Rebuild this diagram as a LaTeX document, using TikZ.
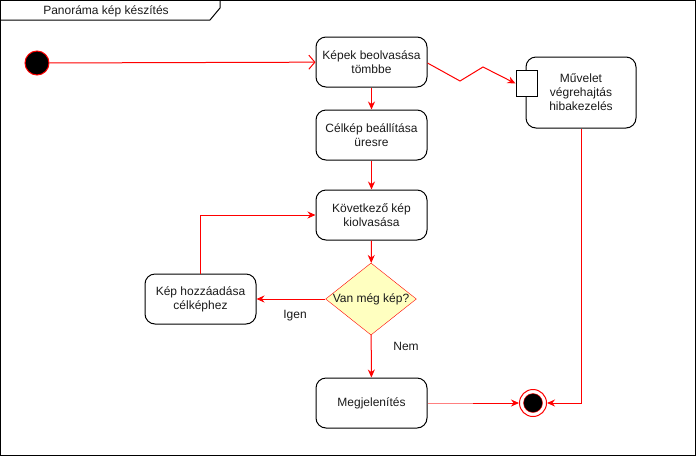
\documentclass[tikz,border=0pt]{standalone}
\usepackage{fontspec}
\setmainfont{Liberation Sans}
\usetikzlibrary{
  arrows.meta,
  shapes.geometric,
  positioning,
  calc
}
\definecolor{paRed}{HTML}{FF0000}
\definecolor{paFaint}{HTML}{FF8080}
\definecolor{paDec}{HTML}{FFFFC0}
\definecolor{paText}{HTML}{1A1A1A}
\tikzset{
  panode/.style={
    draw, rounded corners=10pt, minimum height=50pt, minimum width=111pt,
    font=\fontsize{12}{14}\selectfont, align=center, line width=1pt, text=paText
  },
  action/.style={panode},
  errbox/.style={panode, minimum height=71pt, minimum width=110pt},
  port/.style={draw, fill=white, line width=1pt, minimum width=21pt, minimum height=26pt, inner sep=0pt},
  decision/.style={
    draw=paRed, fill=paDec, diamond, aspect=1.26, minimum width=88pt, minimum height=70pt,
    inner sep=0pt, font=\fontsize{12}{14}\selectfont, text=paText
  },
  startpt/.style={circle, draw=paRed, fill=black, minimum size=24pt, inner sep=0pt, line width=1pt},
  endpt/.style={circle, draw=paRed, fill=white, minimum size=27pt, inner sep=0pt, line width=1pt},
  flow/.style={-{Stealth[length=8pt, width=7pt]}, paRed, line width=1pt},
  openflow/.style={-{Straight Barb[length=6pt, width=14pt]}, paRed, line width=1pt},
  tag/.style={font=\fontsize{12}{14}\selectfont, text=paText},
  frame/.style={draw, line width=1pt}
}

\begin{document}
\begin{tikzpicture}[x=1pt, y=-1pt]
  \useasboundingbox (0,0) rectangle (696,456);
  % frame and title tab
  \draw[frame] (0.5,0.5) rectangle (695.5,455.5);
  \draw[frame] (0.5,20) -- (210,20) -- (220,8) -- (220,0.5);
  \node[tag] (title) at (106,11) {Panoráma kép készítés};

  % nodes
  \node[startpt] (start) at (37,63) {};
  \node[action] (read) at (371.5,62) {Képek beolvasása\\tömbbe};
  \node[action] (init) at (371.5,135) {Célkép beállítása\\üresre};
  \node[action] (next) at (371.5,215) {Következő kép\\kiolvasása};
  \node[decision] (more) at (371,299) {Van még kép?};
  \node[action] (add) at (200.5,299) {Kép hozzáadása\\célképhez};
  \node[action] (show) at (371.5,403) {Megjelenítés};
  \node[errbox] (err) at (581,92.5) {Művelet\\végrehajtás\\hibakezelés};
  \node[port] (errport) at (526.5,83.5) {};
  \node[endpt] (stop) at (533,403) {};
  \node[circle, fill=black, draw=paRed, minimum size=19pt, inner sep=0pt] (stopin) at (stop) {};

  % connectors
  \draw[openflow] (start) -- (read);
  \draw[flow] (read) -- (init);
  \draw[flow] (init) -- (next);
  \draw[flow] (next) -- (more);
  \draw[flow] (more) -- (add);
  \draw[flow] (more) -- (show);
  \draw[flow] (add.north) |- (next.west);
  \coordinate (z1) at (460,81);
  \coordinate (z2) at (483,67);
  \draw[flow] (read.east |- 0,63) -- (z1) -- (z2) -- (errport.west);
  \coordinate (mid) at (473,403);
  \draw[paFaint, line width=1pt] (show.east) -- (mid);
  \draw[flow] (mid) -- (stop.west);
  \draw[flow] (err.south) |- (stop.east);

  \node[tag] (yes) at (295,316) {Igen};
  \node[tag] (no) at (406,346) {Nem};
\end{tikzpicture}
\end{document}
